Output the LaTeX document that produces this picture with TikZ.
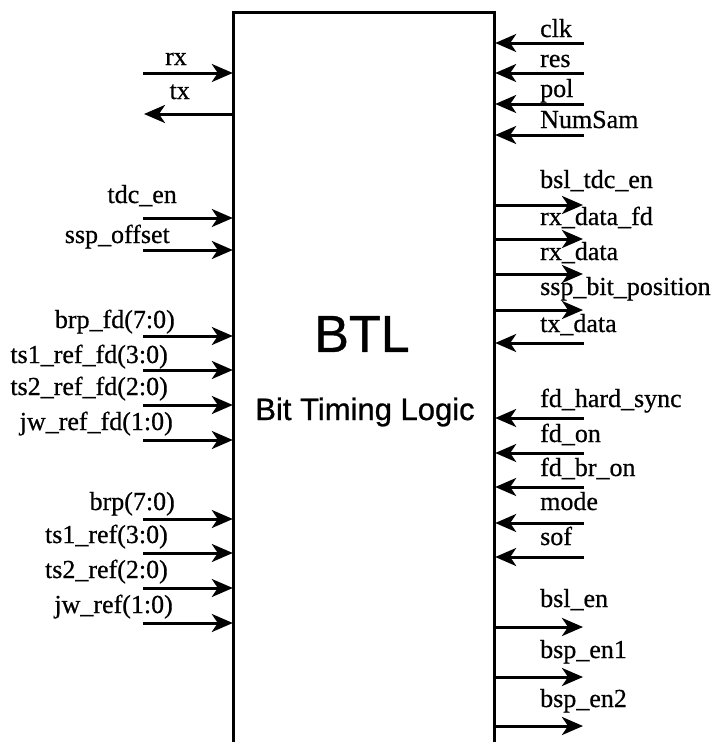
\documentclass[tikz,border=0pt]{standalone}
\usepackage{fontspec}
\setmainfont{Liberation Serif}[FakeBold=0.6]
\newfontfamily\blockfont{Liberation Sans}[FakeBold=0.8]
\usetikzlibrary{arrows.meta}

\begin{document}
\begin{tikzpicture}[x=1pt, y=-1pt,
    pin/.style={line width=3pt, -{Stealth[length=21pt, width=18pt, inset=6pt]}, shorten >=1pt},
    lname/.style={font=\fontsize{26}{30}\selectfont, inner sep=0pt, anchor=base east},
    rname/.style={font=\fontsize{26}{30}\selectfont, inner sep=0pt, anchor=base west}
]
\useasboundingbox (0,0) rectangle (713,742);
% block, open at the bottom
\node[minimum width=260pt, minimum height=729pt, inner sep=0pt] (btl) at (364,377.5) {};
\draw[line width=3pt] (btl.south west) -- (btl.north west) -- (btl.north east) -- (btl.south east);
\node[font=\blockfont\fontsize{52}{56}\selectfont] (name) at (362,334) {BTL};
\node[font=\blockfont\fontsize{31}{34}\selectfont] (desc) at (365,412) {Bit Timing Logic};

% left side
\coordinate (rx) at (143,73);
\node[lname] (rxl) at (187,65) {rx};
\draw[pin] (rx) -- (rx -| btl.west);
\coordinate (tx) at (143,114);
\node[lname] (txl) at (190,99) {tx};
\draw[pin] (tx -| btl.west) -- (tx);

\coordinate (tdcen) at (143,218);
\node[lname] (tdcenl) at (177,203) {tdc\_en};
\draw[pin] (tdcen) -- (tdcen -| btl.west);
\coordinate (sspoff) at (143,250);
\node[lname] (sspoffl) at (170,243) {ssp\_offset};
\draw[pin] (sspoff) -- (sspoff -| btl.west);

\coordinate (brpfd) at (143,336);
\node[lname] (brpfdl) at (175,328) {brp\_fd(7:0)};
\draw[pin] (brpfd) -- (brpfd -| btl.west);
\coordinate (tsafd) at (143,370);
\node[lname] (tsafdl) at (168,363) {ts1\_ref\_fd(3:0)};
\draw[pin] (tsafd) -- (tsafd -| btl.west);
\coordinate (tsbfd) at (143,405);
\node[lname] (tsbfdl) at (168,395) {ts2\_ref\_fd(2:0)};
\draw[pin] (tsbfd) -- (tsbfd -| btl.west);
\coordinate (jwfd) at (143,440);
\node[lname] (jwfdl) at (173,430) {jw\_ref\_fd(1:0)};
\draw[pin] (jwfd) -- (jwfd -| btl.west);

\coordinate (brp) at (143,519);
\node[lname] (brpl) at (175,510) {brp(7:0)};
\draw[pin] (brp) -- (brp -| btl.west);
\coordinate (tsa) at (143,553);
\node[lname] (tsal) at (168,543) {ts1\_ref(3:0)};
\draw[pin] (tsa) -- (tsa -| btl.west);
\coordinate (tsb) at (143,588);
\node[lname] (tsbl) at (168,578) {ts2\_ref(2:0)};
\draw[pin] (tsb) -- (tsb -| btl.west);
\coordinate (jw) at (143,623);
\node[lname] (jwl) at (173,613) {jw\_ref(1:0)};
\draw[pin] (jw) -- (jw -| btl.west);

% right side
\coordinate (clk) at (584,43);
\node[rname] (clkl) at (540,37) {clk};
\draw[pin] (clk) -- (clk -| btl.east);
\coordinate (res) at (584,73);
\node[rname] (resl) at (540,67) {res};
\draw[pin] (res) -- (res -| btl.east);
\coordinate (pol) at (584,104);
\node[rname] (poll) at (540,97) {pol};
\draw[pin] (pol) -- (pol -| btl.east);
\coordinate (numsam) at (584,135);
\node[rname] (numsaml) at (540,128) {NumSam};
\draw[pin] (numsam) -- (numsam -| btl.east);

\coordinate (bsltdc) at (584,205);
\node[rname] (bsltdcl) at (540,188) {bsl\_tdc\_en};
\draw[pin] (bsltdc -| btl.east) -- (bsltdc);
\coordinate (rxdfd) at (584,239);
\node[rname] (rxdfdl) at (540,225) {rx\_data\_fd};
\draw[pin] (rxdfd -| btl.east) -- (rxdfd);
\coordinate (rxd) at (584,274);
\node[rname] (rxdl) at (540,260) {rx\_data};
\draw[pin] (rxd -| btl.east) -- (rxd);
\coordinate (sspbit) at (584,310);
\node[rname] (sspbitl) at (540,295) {ssp\_bit\_position};
\draw[pin] (sspbit -| btl.east) -- (sspbit);
\coordinate (txd) at (584,343);
\node[rname] (txdl) at (540,332) {tx\_data};
\draw[pin] (txd) -- (txd -| btl.east);

\coordinate (hsync) at (584,418);
\node[rname] (hsyncl) at (540,407) {fd\_hard\_sync};
\draw[pin] (hsync) -- (hsync -| btl.east);
\coordinate (fdon) at (584,453);
\node[rname] (fdonl) at (540,442) {fd\_on};
\draw[pin] (fdon) -- (fdon -| btl.east);
\coordinate (fdbr) at (584,487);
\node[rname] (fdbrl) at (540,476) {fd\_br\_on};
\draw[pin] (fdbr) -- (fdbr -| btl.east);
\coordinate (mode) at (584,523);
\node[rname] (model) at (540,510) {mode};
\draw[pin] (mode) -- (mode -| btl.east);
\coordinate (sof) at (584,557);
\node[rname] (sofl) at (540,545) {sof};
\draw[pin] (sof) -- (sof -| btl.east);

\coordinate (bslen) at (584,627);
\node[rname] (bslenl) at (540,607) {bsl\_en};
\draw[pin] (bslen -| btl.east) -- (bslen);
\coordinate (bspa) at (584,677);
\node[rname] (bspal) at (540,658) {bsp\_en1};
\draw[pin] (bspa -| btl.east) -- (bspa);
\coordinate (bspb) at (584,726);
\node[rname] (bspbl) at (540,707) {bsp\_en2};
\draw[pin] (bspb -| btl.east) -- (bspb);
\end{tikzpicture}
\end{document}
